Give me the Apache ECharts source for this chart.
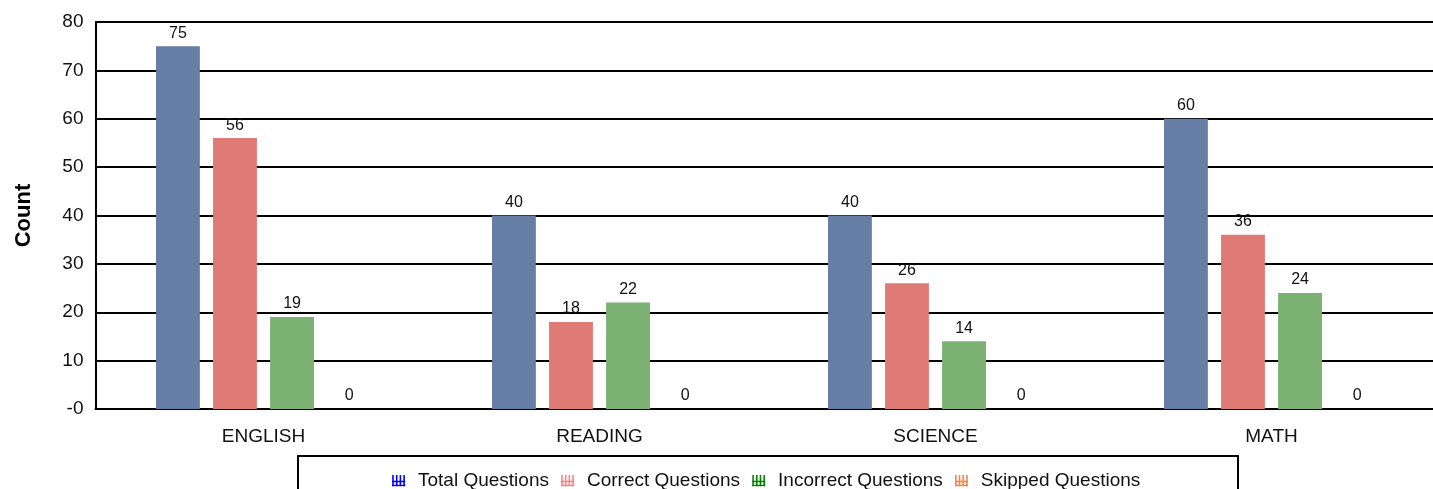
<!DOCTYPE html>
<html>
<head>
<meta charset="utf-8">
<script src="https://cdn.jsdelivr.net/npm/echarts@6/dist/echarts.min.js"></script>
<style>
html,body{margin:0;padding:0;background:#fff;overflow:hidden;}
#wrap{width:1433px;height:489px;overflow:hidden;}
#chart{width:1452px;height:489px;}
</style>
</head>
<body>
<div id="wrap"><div id="chart"></div></div>
<script>
const categories = ['ENGLISH', 'READING', 'SCIENCE', 'MATH'];
const seriesNames = ['Total Questions', 'Correct Questions', 'Incorrect Questions', 'Skipped Questions'];
const totalQuestions = [75, 40, 40, 60];
const correctQuestions = [56, 18, 26, 36];
const incorrectQuestions = [19, 22, 14, 24];
const skippedQuestions = [0, 0, 0, 0];
const yTicks = [0, 10, 20, 30, 40, 50, 60, 70, 80];

const barColors = ['#657ea6', '#e07a74', '#7bb173', '#ff8040'];
const legendColors = ['#0000ff', '#ff8080', '#008000', '#ff8040'];

function hatchIcon(c) {
  const svg = '<svg xmlns="http://www.w3.org/2000/svg" width="21" height="12" viewBox="0 0 21 12">' +
    '<g stroke="' + c + '" stroke-width="1.6" fill="none">' +
    '<line x1="1" y1="0" x2="1" y2="12"/>' +
    '<line x1="4.7" y1="0" x2="4.7" y2="12"/>' +
    '<line x1="8.4" y1="0" x2="8.4" y2="12"/>' +
    '<line x1="12.1" y1="0" x2="12.1" y2="12"/>' +
    '<line x1="0" y1="7" x2="13.2" y2="7"/>' +
    '<line x1="0" y1="11" x2="13.2" y2="11"/>' +
    '</g></svg>';
  return 'image://data:image/svg+xml;charset=utf-8,' + encodeURIComponent(svg);
}

const dataSets = [totalQuestions, correctQuestions, incorrectQuestions, skippedQuestions];

const chart = echarts.init(document.getElementById('chart'), null, {renderer: 'canvas'});
chart.setOption({
  animation: false,
  backgroundColor: '#fff',
  textStyle: {fontFamily: 'Liberation Sans, Arial, sans-serif'},
  grid: {left: 95.5, width: 1344, top: 22, height: 387, containLabel: false},
  xAxis: {
    type: 'category',
    data: categories,
    axisLine: {show: true, lineStyle: {color: '#000', width: 2}},
    axisTick: {show: false},
    axisLabel: {color: '#111', fontSize: 19, margin: 18}
  },
  yAxis: {
    type: 'value',
    min: yTicks[0],
    max: yTicks[yTicks.length - 1],
    interval: 10,
    name: 'Count',
    nameLocation: 'middle',
    nameGap: 61,
    nameTextStyle: {fontWeight: 'bold', fontSize: 22, color: '#000'},
    axisLine: {show: true, lineStyle: {color: '#000', width: 2}},
    axisTick: {show: false},
    axisLabel: {color: '#111', fontSize: 19, margin: 12,
      formatter: v => v === 0 ? '-0' : String(v)},
    splitLine: {show: true, lineStyle: {color: '#000', width: 2}}
  },
  legend: {
    left: 392,
    top: 471,
    padding: 0,
    itemGap: 12,
    itemWidth: 21,
    itemHeight: 12,
    textStyle: {fontSize: 19, color: '#111'},
    data: seriesNames.map((n, i) => ({name: n, icon: hatchIcon(legendColors[i])}))
  },
  graphic: [{
    type: 'rect',
    shape: {x: 298, y: 456, width: 940, height: 60},
    style: {fill: 'none', stroke: '#000', lineWidth: 2},
    silent: true
  }],
  series: dataSets.map((d, i) => ({
    name: seriesNames[i],
    type: 'bar',
    data: d,
    barGap: '30%',
    barCategoryGap: '36%',
    itemStyle: {color: barColors[i]},
    label: {show: true, position: 'top', distance: 5, fontSize: 16, color: '#111'}
  }))
});
</script>
</body>
</html>
